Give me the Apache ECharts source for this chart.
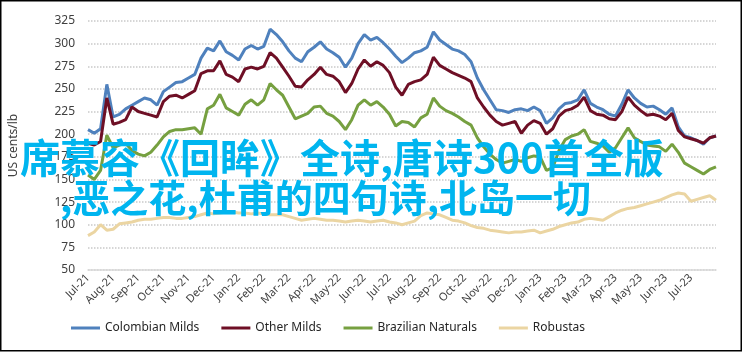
<!DOCTYPE html>
<html>
<head>
<meta charset="utf-8">
<script src="https://cdn.jsdelivr.net/npm/echarts@6/dist/echarts.min.js"></script>
<style>
  html, body { margin: 0; padding: 0; background: #fff; }
  #chart { width: 743px; height: 352px; }
</style>
</head>
<body>
<div id="chart"></div>
<script>
// 月份标签 (每月4个点)
var monthLabels = ['Jul-21','Aug-21','Sep-21','Oct-21','Nov-21','Dec-21','Jan-22','Feb-22','Mar-22','Apr-22','May-22','Jun-22',
  'Jul-22','Aug-22','Sep-22','Oct-22','Nov-22','Dec-22','Jan-23','Feb-23','Mar-23','Apr-23','May-23','Jun-23','Jul-23'];
var yTicks = [50, 75, 100, 125, 150, 175, 200, 225, 250, 275, 300, 325];

var colombianMilds = [205,201,206,255,219,222,228,232,236,240,238,232,247,252,257,258,262,266,284,295,
  292,303,291,287,282,294,298,294,297,316,310,302,292,284,280,291,296,302,294,290,
  285,274,284,300,310,304,307,301,294,286,279,284,290,292,296,313,304,299,294,292,
  288,280,262,249,238,227,226,224,227,228,226,230,226,212,218,228,234,235,238,249,
  234,230,227,222,220,233,249,240,234,230,231,227,222,229,208,198,196,193,189,196,198];
var otherMilds = [190,188,192,240,211,213,216,230,225,223,221,219,236,242,243,240,244,248,267,270,
  270,281,266,263,258,272,274,272,275,290,284,274,264,253,252,260,266,274,266,264,
  258,246,256,272,282,275,280,276,268,252,243,255,258,260,266,285,276,272,268,265,
  262,258,240,230,221,214,210,212,214,201,210,215,212,200,206,220,226,228,232,241,
  226,222,221,217,216,225,241,232,226,221,222,220,216,223,204,197,195,193,190,196,198];
var brazilianNaturals = [155,150,160,199,185,188,190,182,178,176,180,188,197,203,205,205,206,207,200,228,
  232,244,229,225,221,233,238,232,238,256,249,243,230,217,220,223,230,231,223,220,
  214,205,216,232,238,232,236,230,222,209,214,213,208,218,222,240,231,226,223,219,
  214,210,196,186,178,172,168,170,172,170,174,176,175,160,163,182,194,198,200,205,
  192,190,187,180,185,196,207,196,192,188,187,186,181,189,180,168,164,160,156,161,164];
var robustas = [88,92,100,94,95,101,102,103,105,106,106,107,108,108,107,107,108,109,111,113,
  112,113,114,114,113,113,112,113,112,111,111,111,109,107,105,106,107,106,105,105,
  104,103,104,105,104,103,104,105,103,102,100,102,104,110,113,112,111,108,105,104,
  102,99,97,96,94,93,92,91,92,92,93,94,91,93,95,98,100,102,103,106,
  107,106,105,109,113,116,118,119,121,123,125,127,130,133,135,134,126,128,130,132,127];

var seriesNames = ['Colombian Milds', 'Other Milds', 'Brazilian Naturals', 'Robustas'];
var seriesColors = ['#4f81bd', '#6e0f25', '#76a040', '#ebd5a2'];
var overlayLines = ['席慕容《回眸》全诗,唐诗300首全版', ',恶之花,杜甫的四句诗,北岛一切'];

// x轴类目: 每月4个点，只在月初显示标签
var categories = [];
for (var i = 0; i < colombianMilds.length; i++) {
  categories.push(i % 4 === 0 ? (monthLabels[i / 4] || '') : '');
}

var chart = echarts.init(document.getElementById('chart'));
var allData = [colombianMilds, otherMilds, brazilianNaturals, robustas];

var option = {
  backgroundColor: '#fff',
  animation: false,
  grid: { left: 79, right: 27, top: 21, bottom: 82 },
  legend: {
    left: 66,
    bottom: 13,
    itemWidth: 29,
    itemHeight: 3,
    itemGap: 22,
    icon: 'rect',
    textStyle: { color: '#262626', fontSize: 12, fontFamily: 'Noto Sans' },
    data: seriesNames
  },
  xAxis: {
    type: 'category',
    data: categories,
    boundaryGap: false,
    axisTick: { show: false },
    axisLine: { lineStyle: { color: '#d9d9d9', width: 1.5 } },
    axisLabel: {
      interval: 3,
      rotate: 45,
      margin: 6,
      color: '#404040',
      fontSize: 11,
      fontFamily: 'Noto Sans'
    },
    splitLine: { show: false }
  },
  yAxis: {
    type: 'value',
    min: yTicks[0],
    max: yTicks[yTicks.length - 1],
    interval: 25,
    name: 'US cents/lb',
    nameLocation: 'middle',
    nameRotate: 90,
    nameGap: 68,
    nameTextStyle: { color: '#404040', fontSize: 12, fontFamily: 'Noto Sans' },
    axisLine: { show: false },
    axisTick: { show: false },
    axisLabel: { color: '#404040', fontSize: 12, margin: 13, fontFamily: 'Noto Sans' },
    splitLine: { lineStyle: { color: '#c9c9c9', type: 'dotted', width: 1.5 } }
  },
  series: seriesNames.map(function (n, k) {
    return {
      name: n,
      type: 'line',
      data: allData[k],
      symbol: 'none',
      color: seriesColors[k],
      lineStyle: { width: 3, color: seriesColors[k] },
      z: 2 + k
    };
  }),
  graphic: [
    {
      type: 'text', left: 20, top: 138, z: 100,
      style: { text: overlayLines[0], fill: '#00b5ef', font: 'bold 40px "Noto Sans CJK SC"' }
    },
    {
      type: 'text', left: 60, top: 179, z: 100,
      style: { text: overlayLines[1], fill: '#00b5ef', font: 'bold 38px "Noto Sans CJK SC"' }
    },
    {
      type: 'rect', z: 100, silent: true,
      shape: { x: 0.75, y: 0.75, width: 740.5, height: 350 },
      style: { fill: 'none', stroke: '#000', lineWidth: 1.5 }
    }
  ]
};

chart.setOption(option);
</script>
</body>
</html>
